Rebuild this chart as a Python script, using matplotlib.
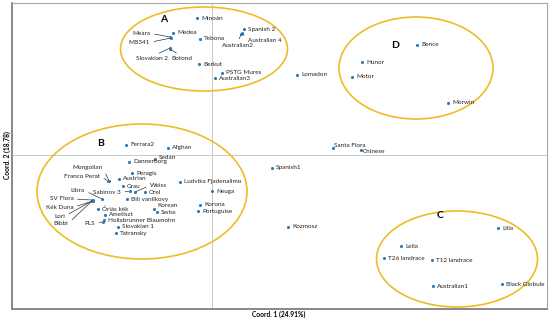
import matplotlib
matplotlib.use("Agg")
from matplotlib import pyplot as plt
from matplotlib.patches import Ellipse

# PCoA coordinates of the accessions
names = [
    "Minoán", "Medea", "Meara", "MB341", "Tebona", "Slovakian 2", "Botond",
    "Berkut", "Spanish 2", "Australian 4", "Australian2", "PSTG Mures",
    "Australian3", "Lomadon", "Bence", "Hunor", "Motor", "Morwin",
    "Santa Flora", "Chinese", "Ferrara2", "Afghan", "Sedan", "Dannerborg",
    "Peragis", "Austrian", "Mongolian", "Franco Perat", "Ludvika Fjadenalimo",
    "Grau", "Sabinov 3", "Weiss", "Orel", "Neuga", "Libra", "SV Flora",
    "Kék Duna", "Lori", "Bibbi", "Bili vanilkovy", "Óriás kék", "Korean",
    "Swiss", "Korona", "Portuguise", "Ametiszt", "Hollabrunner Blaumohn",
    "PLS", "Slovakian 1", "Tatransky", "Spanish1", "Kozmosz", "Lilla",
    "Leila", "T26 landrace", "T12 landrace", "Australian1", "Black Globule",
]
coord1 = [
    -0.15, -0.39, -0.42, -0.41, -0.12, -0.42, -0.42,
    -0.13, 0.32, 0.30, 0.29, 0.10,
    0.03, 0.85, 2.05, 1.50, 1.40, 2.36,
    1.21, 1.49, -0.86, -0.44, -0.57, -0.83,
    -0.80, -0.93, -1.03, -1.04, -0.32,
    -0.89, -0.82, -0.77, -0.67, 0.00, -1.10, -1.20,
    -1.19, -1.20, -1.19, -0.85, -1.14, -0.58,
    -0.55, -0.12, -0.14, -1.07, -1.08,
    -1.09, -0.94, -0.96, 0.60, 0.76, 2.86,
    1.89, 1.72, 2.20, 2.21, 2.90,
]
coord2 = [
    1.37, 1.22, 1.18, 1.17, 1.16, 1.07, 1.06,
    0.91, 1.26, 1.22, 1.21, 0.82,
    0.77, 0.80, 1.10, 0.93, 0.78, 0.52,
    0.07, 0.05, 0.10, 0.07, -0.04, -0.07,
    -0.18, -0.24, -0.26, -0.26, -0.27,
    -0.31, -0.36, -0.37, -0.37, -0.36, -0.44, -0.45,
    -0.46, -0.46, -0.45, -0.44, -0.54, -0.54,
    -0.57, -0.50, -0.56, -0.60, -0.65,
    -0.67, -0.72, -0.78, -0.13, -0.72, -0.73,
    -0.91, -1.03, -1.05, -1.31, -1.29,
]

# labels moved away from their point, joined by a leader line
callouts = {
    "Meara": ((-0.615, 1.217), "right"),
    "MB341": ((-0.62, 1.127), "right"),
    "Slovakian 2": ((-0.60, 0.96), "center"),
    "Botond": ((-0.30, 0.96), "center"),
    "Australian2": ((0.26, 1.097), "center"),
    "Australian 4": ((0.357, 1.15), "left"),
    "Mongolian": ((-1.093, -0.123), "right"),
    "Franco Perat": ((-1.12, -0.21), "right"),
    "Sabinov 3": ((-0.91, -0.373), "right"),
    "Weiss": ((-0.62, -0.305), "left"),
    "Libra": ((-1.273, -0.357), "right"),
    "SV Flora": ((-1.387, -0.44), "right"),
    "Kék Duna": ((-1.387, -0.523), "right"),
    "Lori": ((-1.47, -0.61), "right"),
    "Bibbi": ((-1.437, -0.683), "right"),
    "PLS": ((-1.17, -0.683), "right"),
}
nudges = {"Korean": (2.5, 2.5), "Santa Flora": (1, 1.5), "Chinese": (1.5, -0.8),
          "Sedan": (3, 1.2)}

groups = ["A", "B", "C", "D"]
group_xy = [(-0.48, 1.36), (-1.11, 0.11), (2.28, -0.61), (1.83, 1.10)]
ellipses = [((-0.08, 1.06), 1.67, 0.84), ((-0.70, -0.365), 2.10, 1.35),
            ((2.45, -1.04), 1.61, 0.96), ((2.04, 0.87), 1.54, 1.02)]

plt.rcParams["font.family"] = ["Lato", "DejaVu Sans"]

fig = plt.figure(figsize=(5.5, 3.2), dpi=100)
ax = fig.add_axes([12 / 550, 11 / 320, 535 / 550, 306 / 320])
ax.set_xlim(-2.00, 3.35)
ax.set_ylim(-1.54, 1.52)

ax.axhline(0, color="#c8c8c8", lw=0.7, zorder=0)
ax.axvline(0, color="#c8c8c8", lw=0.7, zorder=0)

for (cx, cy), w, h in ellipses:
    ax.add_patch(Ellipse((cx, cy), w, h, fill=False, ec="#eebc26", lw=1.2, zorder=1))

ax.scatter(coord1, coord2, s=5, color="#2b7bba", zorder=3, linewidths=0)

fs = 4.6
for name, x, y in zip(names, coord1, coord2):
    if name in callouts:
        (tx, ty), ha = callouts[name]
        rel = {"right": (1, 0.5), "left": (0, 0.5), "center": (0.5, 1)}[ha]
        ax.annotate(name, (x, y), xytext=(tx, ty), ha=ha, va="center",
                    fontsize=fs, color="#222222",
                    arrowprops=dict(arrowstyle="-", color="#333333", lw=0.5,
                                    shrinkA=1, shrinkB=1, relpos=rel))
    else:
        dx, dy = nudges.get(name, (3, 0))
        ax.annotate(name, (x, y), xytext=(dx, dy), textcoords="offset points",
                    ha="left", va="center", fontsize=fs, color="#222222")

for g, (gx, gy) in zip(groups, group_xy):
    ax.text(gx, gy, g, fontsize=7.5, fontweight="bold", ha="center", va="center")

ax.set_xticks([])
ax.set_yticks([])
for side in ["left", "bottom"]:
    ax.spines[side].set_color("#7f7f7f")
    ax.spines[side].set_linewidth(1.3)
for side in ["top", "right"]:
    ax.spines[side].set_color("#a6a6a6")
    ax.spines[side].set_linewidth(0.8)

fig.text(279 / 550, 1 - 314 / 320, "Coord. 1 (24.91%)", fontsize=4.8,
         fontweight="bold", ha="center", va="center")
fig.text(7 / 550, 1 - 155 / 320, "Coord. 2 (18.78)", fontsize=4.8,
         fontweight="bold", ha="center", va="center", rotation=90)

fig.savefig("out.png", dpi=100)
